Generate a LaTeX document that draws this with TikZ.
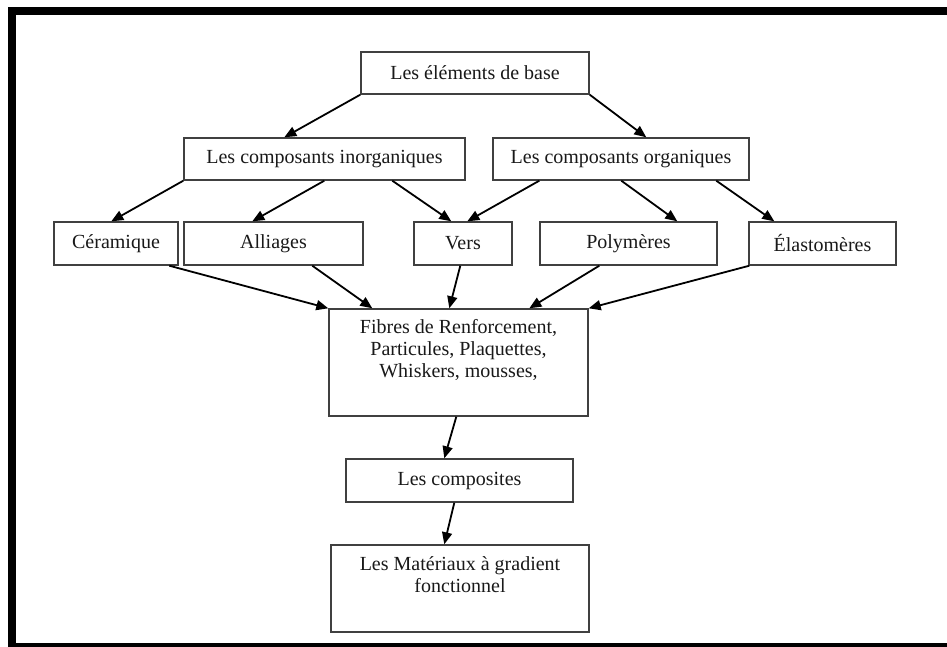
\documentclass[tikz,border=0pt]{standalone}
\usepackage{fontspec}
\setmainfont{Liberation Serif}
\usetikzlibrary{arrows.meta}

\tikzset{
  blockbox/.style={draw=black!75, line width=1.4pt, fill=white, inner sep=0pt,
    align=center, font=\fontsize{20}{22}\selectfont, text=black!90},
  flow/.style={draw=black, line width=1.8pt,
    -{Triangle[length=12pt,width=10pt]}},
  frameline/.style={draw=black, line width=8pt}
}

\begin{document}
\begin{tikzpicture}[x=1pt, y=-1pt]
  \useasboundingbox (0,0) rectangle (947,646);
  \clip (0,0) rectangle (947,646);
  \fill[white] (0,0) rectangle (947,646);
  \draw[frameline] (12,11) rectangle (951,647);

  % hierarchy of boxes
  \node[blockbox, minimum width=228pt, minimum height=42pt] (base) at (475,73) {Les éléments de base};
  \node[blockbox, minimum width=281pt, minimum height=42pt] (inorg) at (324.5,159) {Les composants inorganiques};
  \node[blockbox, minimum width=256pt, minimum height=42pt] (org) at (621,159) {Les composants organiques};

  \node[blockbox, minimum width=124pt, minimum height=43pt] (ceram) at (116,243.5) {Céramique};
  \node[blockbox, minimum width=179pt, minimum height=43pt] (alli) at (273.5,243.5) {Alliages};
  \node[blockbox, minimum width=98pt, minimum height=43pt] (vers) at (463,243.5) {Vers};
  \node[blockbox, minimum width=177pt, minimum height=43pt] (poly) at (628.5,243.5) {Polymères};
  \node[blockbox, minimum width=147pt, minimum height=43pt] (elast) at (822.5,243.5) {Élastomères};

  \node[blockbox, minimum width=259pt, minimum height=107pt] (fibres) at (458.5,362.5)
    {Fibres de Renforcement,\\ Particules, Plaquettes,\\ Whiskers, mousses,\\ \strut};
  \node[blockbox, minimum width=227pt, minimum height=43pt] (compo) at (459.5,480.5) {Les composites};
  \node[blockbox, minimum width=258pt, minimum height=87pt] (mater) at (460,588.5)
    {Les Matériaux à gradient\\ fonctionnel\\ \strut};

  % connectors
  \draw[flow] (base.south west) -- ([xshift=101pt]inorg.north west);
  \draw[flow] (base.south east) -- ([xshift=154pt]org.north west);

  \draw[flow] (inorg.south west) -- ([xshift=58pt]ceram.north west);
  \draw[flow] ([xshift=141pt]inorg.south west) -- ([xshift=69pt]alli.north west);
  \draw[flow] ([xshift=209pt]inorg.south west) -- ([xshift=38pt]vers.north west);
  \draw[flow] ([xshift=47pt]org.south west) -- ([xshift=54pt]vers.north west);
  \draw[flow] ([xshift=129pt]org.south west) -- ([xshift=138pt]poly.north west);
  \draw[flow] ([xshift=224pt]org.south west) -- ([xshift=26pt]elast.north west);

  \draw[flow] ([xshift=116pt]ceram.south west) -- (fibres.north west);
  \draw[flow] ([xshift=129pt]alli.south west) -- ([xshift=44pt]fibres.north west);
  \draw[flow] ([xshift=47pt]vers.south west) -- ([xshift=121pt]fibres.north west);
  \draw[flow] ([xshift=60pt]poly.south west) -- ([xshift=201pt]fibres.north west);
  \draw[flow] ([xshift=1pt]elast.south west) -- (fibres.north east);

  \draw[flow] ([xshift=128pt]fibres.south west) -- ([xshift=99pt]compo.north west);
  \draw[flow] ([xshift=109pt]compo.south west) -- ([xshift=114pt]mater.north west);
\end{tikzpicture}
\end{document}
